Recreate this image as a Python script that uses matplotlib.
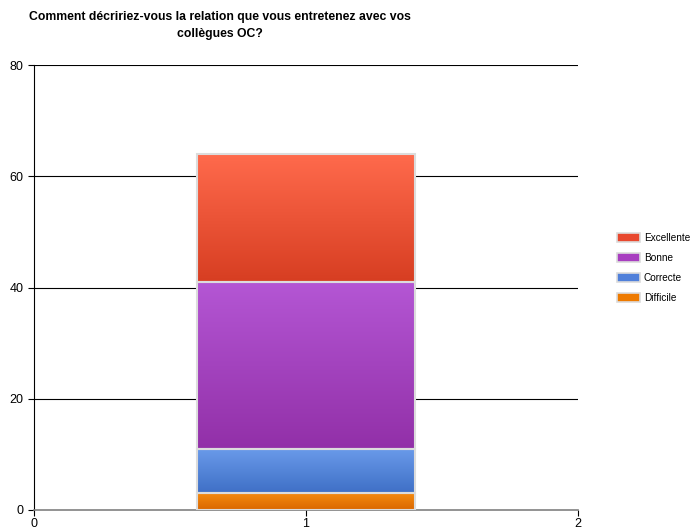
import matplotlib
matplotlib.use('Agg')
import matplotlib.pyplot as plt
import numpy as np
from matplotlib.colors import LinearSegmentedColormap
from matplotlib.patches import Patch

plt.rcParams['font.family'] = ['Liberation Sans', 'DejaVu Sans']

# Data
categories = ['Difficile', 'Correcte', 'Bonne', 'Excellente']
values = [3, 8, 30, 23]
position = 1
top_colors = ['#F58A10', '#6A9BEA', '#B456D4', '#FF6A4C']
bottom_colors = ['#DA6800', '#3F6FC6', '#9230A8', '#D73E22']
legend_colors = ['#EE7A00', '#5080DA', '#A83EC0', '#E8482E']

fig = plt.figure(figsize=(6.93, 5.32), dpi=100)
ax = fig.add_axes([34 / 693, 22 / 532, 544 / 693, 445 / 532])

bottom = 0
for cat, val, c_top, c_bot in zip(categories, values, top_colors, bottom_colors):
    bars = ax.bar(position, val, width=0.8, bottom=bottom, color='none',
                  edgecolor='#DCDCDC', linewidth=1.5, zorder=3)
    patch = bars[0]
    cmap = LinearSegmentedColormap.from_list(cat, [c_bot, c_top])
    grad = np.linspace(0, 1, 100).reshape(-1, 1)
    im = ax.imshow(grad, cmap=cmap, aspect='auto', origin='lower',
                   extent=[position - 0.4, position + 0.4, bottom, bottom + val],
                   zorder=2)
    im.set_clip_path(patch)
    bottom += val

ax.set_xlim(0, 2)
ax.set_ylim(0, 80)
ax.set_xticks([0, 1, 2])
ax.set_yticks([0, 20, 40, 60, 80])
for y in [20, 40, 60, 80]:
    ax.axhline(y, color='black', linewidth=0.8, zorder=1)

ax.spines['top'].set_visible(False)
ax.spines['right'].set_visible(False)
ax.spines['left'].set_color('black')
ax.spines['bottom'].set_color('#808080')
ax.spines['bottom'].set_linewidth(1.2)
ax.tick_params(axis='both', labelsize=9, length=4, width=0.8, colors='black')
ax.tick_params(axis='x', pad=2)

fig.text(220 / 693, 1 - 11 / 532,
         'Comment décririez-vous la relation que vous entretenez avec vos\ncollègues OC?',
         ha='center', va='top', fontsize=8.8, fontweight='bold', linespacing=1.6)

handles = [Patch(facecolor=legend_colors[i], edgecolor='#DCDCDC', linewidth=1.2)
           for i in range(len(categories) - 1, -1, -1)]
labels = categories[::-1]
fig.legend(handles, labels, loc='center left', bbox_to_anchor=(608 / 693, 1 - 268 / 532),
           frameon=False, fontsize=7.2, handlelength=2.3, handleheight=0.95,
           labelspacing=1.0, handletextpad=0.4)

fig.savefig('out.png', dpi=100)
